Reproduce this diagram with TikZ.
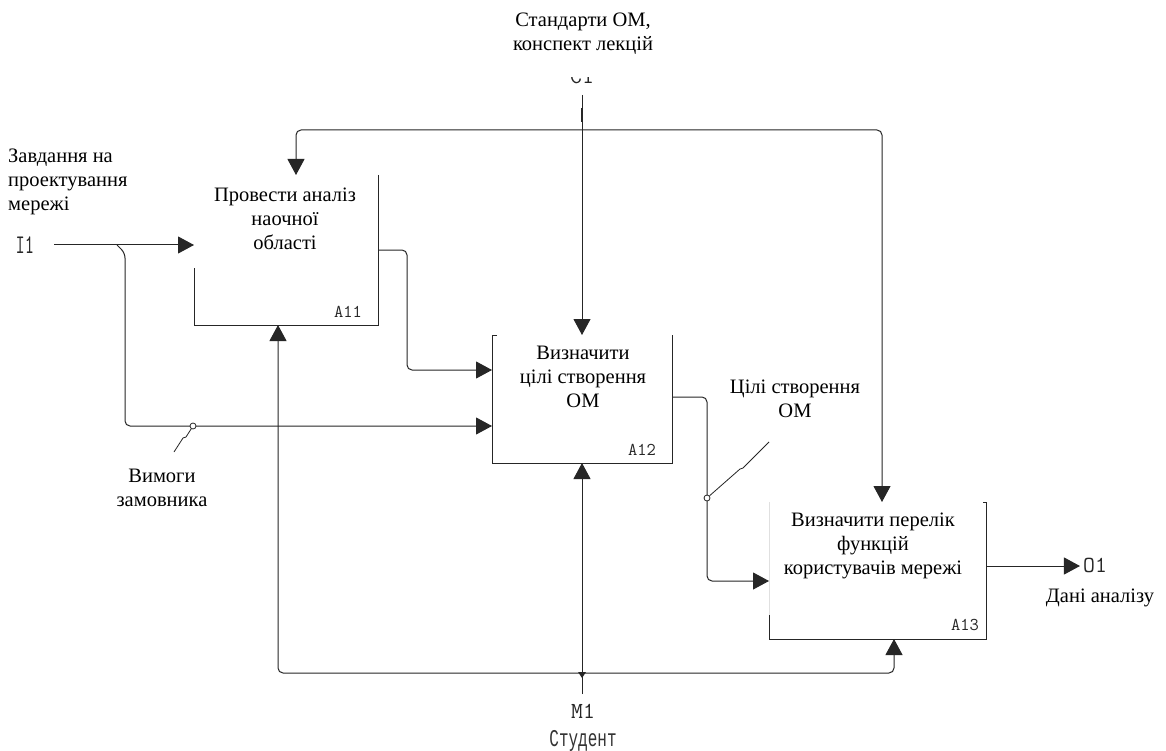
\documentclass[tikz,border=0pt]{standalone}
\usepackage{fontspec}
\usepackage{graphicx}
\setmainfont{Liberation Serif}
\newfontfamily\codefont{Liberation Mono}
\usetikzlibrary{arrows.meta}
\newcommand{\tallcode}[2]{\scalebox{1}[#1]{#2}}
\begin{document}
\begin{tikzpicture}[x=1pt,y=-1pt,
  wire/.style={line width=1pt, draw=black!85},
  flow/.style={wire, rounded corners=5pt, -{Triangle[length=16pt,width=17pt]}},
  edge/.style={line width=1pt, draw=black!85},
  actbox/.style={inner sep=0pt, outer sep=0pt},
  lbl/.style={font=\fontsize{20.5}{24}\selectfont, align=center, inner sep=0pt},
  code/.style={font=\ttfamily\fontsize{18}{20}\selectfont, inner sep=0pt, text=black!85},
  bigcode/.style={font=\ttfamily\fontsize{23}{25}\selectfont, inner sep=0pt, text=black!85},
  cyrcode/.style={font=\codefont\fontsize{16}{18}\selectfont, inner sep=0pt, text=black!80},
  tunnel/.style={circle, draw=black!85, line width=0.8pt, fill=white, inner sep=0pt, minimum size=6pt},
  squig/.style={line width=0.8pt, draw=black!85}]

\useasboundingbox[fill=white] (0,0) rectangle (1166,751);

% activity boxes (outline drawn separately)
\node[actbox, minimum width=184pt, minimum height=150pt] (A11) at (286,250) {};
\node[actbox, minimum width=180pt, minimum height=128pt] (A12) at (582,399) {};
\node[actbox, minimum width=217pt, minimum height=137pt] (A13) at (877.5,570.5) {};

\draw[edge] (A11.north east) -- (A11.south east) -- (A11.south west) -- ([yshift=57pt]A11.south west);
\draw[edge] ([xshift=5pt]A12.north west) -- (A12.north west) -- (A12.south west) -- (A12.south east) -- (A12.north east);
\draw[black!12, line width=0.8pt] (A13.north west) -- ([yshift=24pt]A13.south west);
\draw[edge] ([yshift=24pt]A13.south west) -- (A13.south west) -- (A13.south east) -- (A13.north east) -- ([xshift=-3pt]A13.north east);

% box texts and numbers
\node[lbl] (t11) at (285,219) {Провести аналіз\\наочної\\області};
\node[lbl] (t12) at (583,377) {Визначити\\цілі створення\\ОМ};
\node[lbl] (t13) at (873,546) {Визначити перелік\\функцій\\користувачів мережі};
\node[code] (n11) at (348,312) {A11};
\node[code] (n12) at (642,450) {A12};
\node[code] (n13) at (965,625) {A13};

% boundary labels
\node[lbl] (ctl) at (583,34) {Стандарти ОМ,\\конспект лекцій};
\begin{scope}
  \clip (560,78) rectangle (605,95);
  \node[bigcode] (C1) at (582,76) {C1};
\end{scope}
\node[lbl, align=left, anchor=west] (inp) at (8,182) {Завдання на\\проектування\\мережі};
\node[code] (I1) at (25,245) {\tallcode{1.5}{I1}};
\node[lbl] (req) at (162,488) {Вимоги\\замовника};
\node[lbl] (goal) at (795,399) {Цілі створення\\ОМ};
\node[bigcode, inner sep=3pt] (O1) at (1095,565) {O1};
\node[lbl] (res) at (1100,598) {Дані аналізу};
\node[bigcode] (M1) at (583,711) {M1};
\node[cyrcode] (stud) at (583,741) {\tallcode{1.5}{Студент}};

\coordinate (i1s) at (54,245);
\coordinate (c1s) at (582,95);
\coordinate (m1s) at (582,694);
\coordinate (reqend) at (174,452);
\coordinate (goalend) at (769,442);

% input I1 and its branch
\draw[flow] (i1s) -- (A11.west |- i1s);
\draw[flow] (117,245) -- (125,253) -- (125,426) -- ([yshift=-27pt]A12.west);
\node[tunnel] (tn1) at (193,426) {};
\draw[squig] (tn1) -- (186,437) -- (183,438) -- (reqend);

% A11 -> A12
\draw[flow] (A11.east) -- (407,250) -- (407,370) -- ([yshift=29pt]A12.west);

% control C1
\draw[flow] (c1s) -- (A12.north);
\draw[line width=2.4pt, black!85] (582,108) -- (582,122);
\draw[flow] (582,130) -- (296,130) -- ([xshift=10pt]A11.north);
\draw[flow] (582,130) -- (882,130) -- ([xshift=4.5pt]A13.north);

% A12 -> A13
\draw[flow] ([yshift=2pt]A12.east) -- (707,397) -- (707,581) -- ([yshift=-10.5pt]A13.west);
\node[tunnel] (tn2) at (707,498) {};
\draw[squig] (tn2) -- (740,469) -- (743,468) -- (goalend);

% output O1
\draw[flow] ([yshift=4.5pt]A13.east) -- ([yshift=4.5pt]A13.east -| O1.west);

% mechanism M1
\draw[flow] (m1s) -- (A12.south);
\draw[flow] (582,673) -- (278,673) -- ([xshift=-8pt]A11.south);
\draw[flow] (582,673) -- (894,673) -- ([xshift=16.5pt]A13.south);
\fill[black!85] (578,672) -- (586,672) -- (582,678) -- cycle;
\end{tikzpicture}
\end{document}
